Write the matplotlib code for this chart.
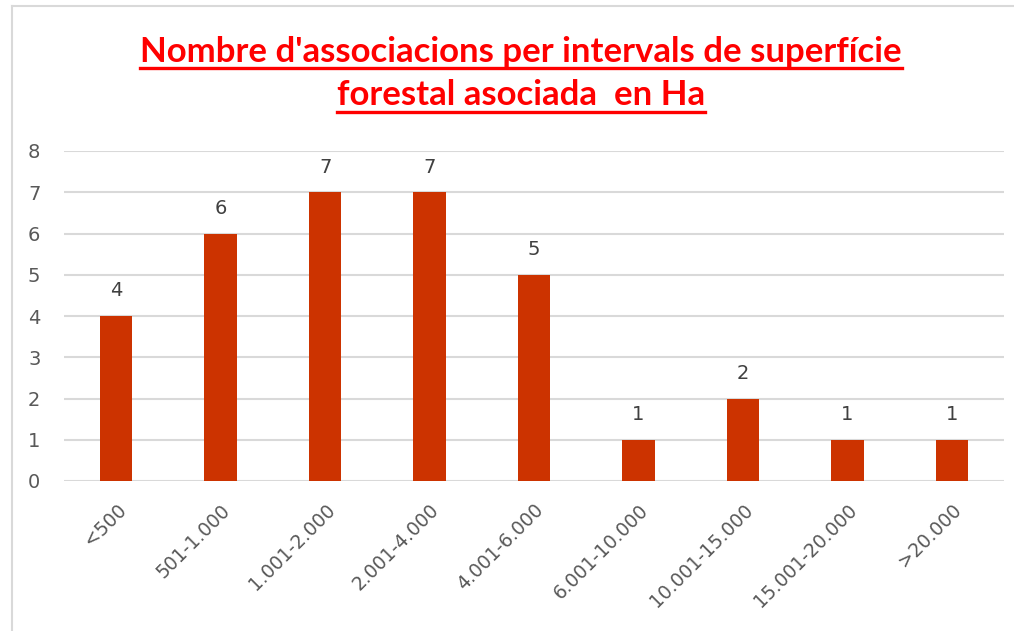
import matplotlib
matplotlib.use("Agg")
import matplotlib.pyplot as plt
from matplotlib.lines import Line2D

categories = ["<500", "501-1.000", "1.001-2.000", "2.001-4.000", "4.001-6.000",
              "6.001-10.000", "10.001-15.000", "15.001-20.000", ">20.000"]
values = [4, 6, 7, 7, 5, 1, 2, 1, 1]
yticks = [0, 1, 2, 3, 4, 5, 6, 7, 8]
title_lines = ["Nombre d'associacions per intervals de superfície",
               "forestal asociada  en Ha"]

W, H = 1014, 631
fig = plt.figure(figsize=(W / 100, H / 100), dpi=100)
fig.patch.set_facecolor("white")

# chart border (top and left visible)
fig.add_artist(Line2D([12 / W, 12 / W], [0, 1 - 6 / H], color="#d9d9d9", lw=1.5))
fig.add_artist(Line2D([12 / W, 1], [1 - 6 / H, 1 - 6 / H], color="#d9d9d9", lw=1.5))

ax = fig.add_axes([64 / W, 1 - 481 / H, 940 / W, 330 / H])
x = list(range(len(categories)))
ax.bar(x, values, width=0.31, color="#CC3300", zorder=3)
ax.set_xlim(-0.5, len(categories) - 0.5)
ax.set_ylim(0, 8)
ax.set_yticks(yticks)
ax.grid(axis="y", color="#d9d9d9", lw=1.5, zorder=0)
for s in ax.spines.values():
    s.set_visible(False)
ax.tick_params(axis="both", length=0)
ax.tick_params(axis="y", labelsize=14, labelcolor="#595959", pad=17)
ax.set_xticks(x)
ax.set_xticklabels(categories, rotation=45, ha="right", va="top",
                   rotation_mode="anchor", fontsize=13.5, color="#595959")
ax.tick_params(axis="x", pad=14)

for xi, v in zip(x, values):
    ax.annotate(str(v), (xi, v), xytext=(0, 25), textcoords="offset pixels",
                ha="center", va="center", fontsize=14, color="#404040")

tfont = ["Lato", "DejaVu Sans"]
t1 = fig.text(521 / W, 1 - 52 / H, title_lines[0], ha="center", va="center",
              fontsize=25, fontweight="bold", color="#FF0000", family=tfont)
t2 = fig.text(521 / W, 1 - 95 / H, title_lines[1], ha="center", va="center",
              fontsize=25, fontweight="bold", color="#FF0000", family=tfont)
fig.canvas.draw()
r = fig.canvas.get_renderer()
for t, uy in ((t1, 68), (t2, 112)):
    bb = t.get_window_extent(r)
    fig.add_artist(Line2D([bb.x0 / W, bb.x1 / W], [1 - uy / H, 1 - uy / H],
                          color="#FF0000", lw=2.4))

fig.savefig("out.png", dpi=100, facecolor="white")
